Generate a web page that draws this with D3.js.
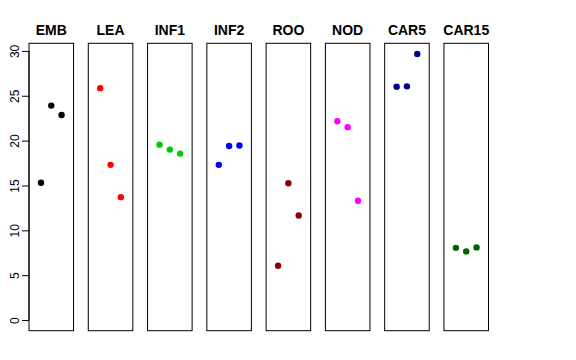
<!DOCTYPE html>
<html><head><meta charset="utf-8">
<script src="https://cdn.jsdelivr.net/npm/d3@7"></script>
<style>body{margin:0;background:#fff}svg{display:block}</style>
</head><body>
<script>
const categories = ["EMB","LEA","INF1","INF2","ROO","NOD","CAR5","CAR15"];
const colors = ["#000000","#FF0000","#00CD00","#0000FF","#8B0000","#FF00FF","#00008B","#006400"];
const vEMB = [15.3, 23.9, 22.85];
const vLEA = [25.85, 17.3, 13.7];
const vINF1 = [19.55, 19.0, 18.55];
const vINF2 = [17.3, 19.4, 19.45];
const vROO = [6.05, 15.25, 11.65];
const vNOD = [22.15, 21.5, 13.3];
const vCAR5 = [26.0, 26.05, 29.66];
const vCAR15 = [8.05, 7.65, 8.1];
const seriesValues = [vEMB, vLEA, vINF1, vINF2, vROO, vNOD, vCAR5, vCAR15];
const yTicks = [0, 5, 10, 15, 20, 25, 30];

const W = 576, H = 360;
const svg = d3.select("body").append("svg").attr("width", W).attr("height", H);

const ymax = d3.max(seriesValues.flat());
const pad = ymax * 0.04;
const y = d3.scaleLinear().domain([0 - pad, ymax + pad]).range([330.7, 43.3]);

const panelX = d3.scaleBand().domain(categories).range([29, 488.5]).paddingInner(14.7/59.2).paddingOuter(0);
const xIn = d3.scaleLinear().domain([-0.16, 4.16]);

categories.forEach((c, i) => {
  const x0 = panelX(c), bw = panelX.bandwidth();
  const g = svg.append("g");
  g.append("rect").attr("x", x0).attr("y", y.range()[1]).attr("width", bw)
    .attr("height", y.range()[0] - y.range()[1]).attr("fill", "none").attr("stroke", "#000").attr("stroke-width", 1);
  g.append("text").attr("x", x0 + bw/2).attr("y", 34.5).attr("text-anchor", "middle")
    .attr("font-family", "Liberation Sans, Arial, sans-serif").attr("font-weight", "bold").attr("font-size", 14)
    .text(c);
  const xs = xIn.copy().range([x0, x0 + bw]);
  g.selectAll("circle").data(seriesValues[i]).join("circle")
    .attr("cx", (d, j) => xs(j + 1)).attr("cy", d => y(d)).attr("r", 3.2).attr("fill", colors[i]);
});

const axisX = panelX(categories[0]);
const axis = d3.axisLeft(y).tickValues(yTicks).tickSize(7).tickSizeOuter(0).tickFormat(d3.format("d"));
const ag = svg.append("g").attr("transform", `translate(${axisX},0)`).call(axis);
ag.select(".domain").attr("d", `M0,${y(0)}V${y(30)}`).attr("stroke", "#000");
ag.selectAll(".tick line").attr("stroke", "#000");
ag.selectAll(".tick text").attr("font-family", "Liberation Sans, Arial, sans-serif").attr("font-size", 12)
  .attr("fill", "#000").attr("text-anchor", "middle").attr("dy", null).attr("x", null)
  .attr("transform", "translate(-14,0) rotate(-90)").attr("dominant-baseline", "central");
</script>
</body></html>
